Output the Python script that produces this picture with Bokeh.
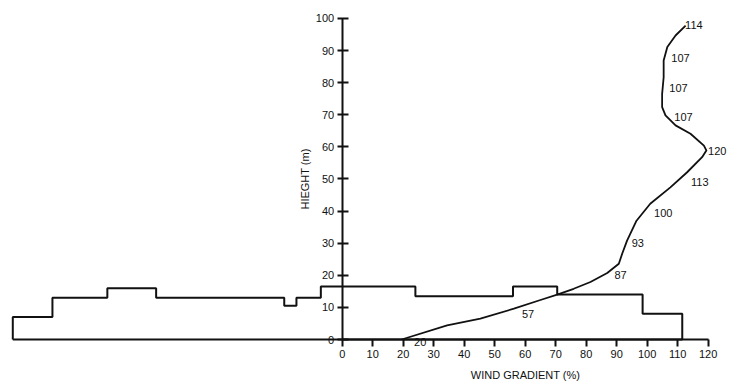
from bokeh.plotting import figure
from bokeh.models import FixedTicker, Range1d, ColumnDataSource
from bokeh.core.properties import value
from bokeh.embed import file_html
from bokeh.resources import INLINE

# ---- data ----
# terrain / building profile: step edges (x, % scale) and heights (m)
profile_edges = [-108, -95, -77, -61, -19, -15, -7, 24, 56, 70.5, 98.5, 111.5]
profile_heights = [7, 13, 16, 13, 10.5, 13, 16.5, 13.5, 16.5, 14, 8]

# traced wind-gradient curve (wind gradient %, height m)
curve_wind = [19.5, 34.4, 45.3, 56.3, 65, 70.5, 75.9, 81.4, 86.9, 90.7, 91.8, 93.4,
              96.5, 101, 107.6, 113.1, 118, 119.4, 118.6, 114.2, 109.3, 106, 104.9,
              104.9, 105.4, 105.4, 106.6, 109.3, 112.6]
curve_height = [0, 4.4, 6.5, 9.6, 12.3, 14, 15.8, 17.9, 20.7, 23.6, 26.7, 30.8,
                37, 42.3, 47.4, 52.1, 56.8, 58.9, 60.4, 64.1, 66.7, 69.8, 72.4,
                76.5, 81.7, 86.9, 91.1, 94.7, 97.8]

# value labels along the curve
label_heights = [0, 10, 20, 30, 40, 50, 60, 70, 80, 90, 100]
label_values = [20, 57, 87, 93, 100, 113, 120, 107, 107, 107, 114]

x_ticks = [0, 10, 20, 30, 40, 50, 60, 70, 80, 90, 100, 110, 120]
y_ticks = [0, 10, 20, 30, 40, 50, 60, 70, 80, 90, 100]

# label screen offsets (layout only)
label_dx = [17, 12, 13, 12, 16, 13, 9, 15, 10, 12, 4]
label_dy = [2, 7, 0, 0, 2, 3, 4, 2, 5, 7, 7]

FONT = "Liberation Sans Narrow, Liberation Sans, Arial, sans-serif"
INK = "#111111"

p = figure(width=733, height=386, output_backend="svg", toolbar_location=None,
           x_range=Range1d(-112.03, 128.3), y_range=Range1d(-14.64, 105.6),
           min_border=0, min_border_left=0, min_border_right=0,
           min_border_top=0, min_border_bottom=0)
p.outline_line_color = None
p.background_fill_color = "white"
p.border_fill_color = "white"
p.xgrid.visible = False
p.ygrid.visible = False

# build closed outline of the profile from the step data
px = [profile_edges[0]]
py = [0]
for i, h in enumerate(profile_heights):
    px += [profile_edges[i], profile_edges[i + 1]]
    py += [h, h]
px += [profile_edges[-1], profile_edges[0]]
py += [0, 0]
p.line(px, py, line_color=INK, line_width=2)

# wind gradient curve
p.line(curve_wind, curve_height, line_color=INK, line_width=1.8, line_join="round")

# labels
src = ColumnDataSource(dict(x=label_values, y=label_heights,
                            t=[str(v) for v in label_values],
                            dx=label_dx, dy=label_dy))
p.text(x="x", y="y", text="t", x_offset="dx", y_offset="dy", source=src,
       text_font=value(FONT), text_font_size="11px", text_color=INK,
       text_align="center", text_baseline="middle")

# axes drawn through the origin
xa = p.xaxis[0]
xa.fixed_location = 0
xa.bounds = (0, 120)
xa.ticker = FixedTicker(ticks=x_ticks)
xa.minor_tick_line_color = None
xa.major_tick_in = 0
xa.major_tick_out = 7
xa.major_tick_line_width = 2
xa.axis_line_width = 2
xa.axis_line_color = INK
xa.major_tick_line_color = INK
xa.major_label_standoff = 3
xa.major_label_text_font = FONT
xa.major_label_text_font_size = "11px"
xa.major_label_text_color = INK
xa.axis_label = "WIND GRADIENT (%)"
xa.axis_label_text_font = FONT
xa.axis_label_text_font_size = "11px"
xa.axis_label_text_font_style = "normal"
xa.axis_label_text_color = INK
xa.axis_label_standoff = 8

ya = p.yaxis[0]
ya.fixed_location = 0
ya.bounds = (0, 100)
ya.ticker = FixedTicker(ticks=y_ticks)
ya.minor_tick_line_color = None
ya.major_tick_in = 6
ya.major_tick_out = 5
ya.major_tick_line_width = 2
ya.axis_line_width = 2
ya.axis_line_color = INK
ya.major_tick_line_color = INK
ya.major_label_standoff = 3
ya.major_label_text_font = FONT
ya.major_label_text_font_size = "11px"
ya.major_label_text_color = INK
ya.axis_label = "HIEGHT (m)"
ya.axis_label_text_font = FONT
ya.axis_label_text_font_size = "11px"
ya.axis_label_text_font_style = "normal"
ya.axis_label_text_color = INK
ya.axis_label_standoff = 2

open("out.html", "w").write(file_html(p, INLINE))
